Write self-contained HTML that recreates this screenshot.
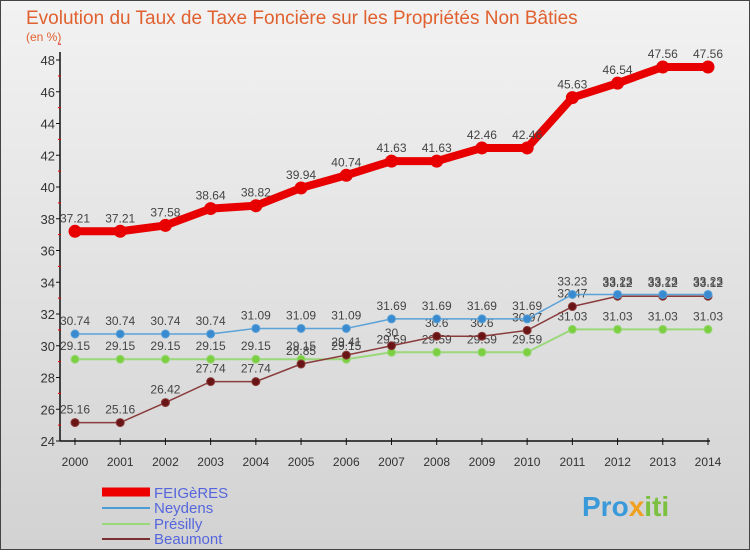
<!DOCTYPE html>
<html><head><meta charset="utf-8"><style>
body{margin:0;width:750px;height:550px;overflow:hidden;font-family:"Liberation Sans",sans-serif}
</style></head><body>
<svg width="750" height="550" xmlns="http://www.w3.org/2000/svg">
<defs><linearGradient id="bg" x1="0" y1="0" x2="0" y2="1"><stop offset="0" stop-color="#f2f2f2"/><stop offset="1" stop-color="#d2d2d2"/></linearGradient></defs>
<rect x="0.5" y="0.5" width="749" height="549" fill="url(#bg)" stroke="#444"/>
<text x="26" y="24" font-size="19" fill="#e0612f">Evolution du Taux de Taxe Foncière sur les Propriétés Non Bâties</text>
<text x="26" y="41" font-size="12" fill="#e0612f">(en %)</text>
<g id="axes"></g><g id="series"></g>
<g font-size="15" fill="#5566dd">
<line x1="102" y1="492" x2="150" y2="492" stroke="#e00" stroke-width="9"/>
<text x="154" y="498" fill="#5566dd">FEIGèRES</text>
<line x1="102" y1="508" x2="150" y2="508" stroke="#4d9bd4" stroke-width="2"/>
<text x="154" y="513" fill="#5566dd">Neydens</text>
<line x1="102" y1="524" x2="150" y2="524" stroke="#9ad87a" stroke-width="2"/>
<text x="154" y="529" fill="#5566dd">Présilly</text>
<line x1="102" y1="539" x2="150" y2="539" stroke="#7a3030" stroke-width="2"/>
<text x="154" y="544" fill="#5566dd">Beaumont</text>
</g>
<text x="582" y="516" font-size="28" font-weight="bold" fill="#3a9ad9">Pro<tspan fill="#f0a020">x</tspan><tspan fill="#7cc040">iti</tspan></text>
</svg>
<script>
const years=[2000,2001,2002,2003,2004,2005,2006,2007,2008,2009,2010,2011,2012,2013,2014];
const feigeres=[37.21,37.21,37.58,38.64,38.82,39.94,40.74,41.63,41.63,42.46,42.46,45.63,46.54,47.56,47.56];
const neydens=[30.74,30.74,30.74,30.74,31.09,31.09,31.09,31.69,31.69,31.69,31.69,33.23,33.23,33.23,33.23];
const presilly=[29.15,29.15,29.15,29.15,29.15,29.15,29.15,29.59,29.59,29.59,29.59,31.03,31.03,31.03,31.03];
const beaumont=[25.16,25.16,26.42,27.74,27.74,28.85,29.41,30,30.6,30.6,30.97,32.47,33.12,33.12,33.12];
const yTicks=[24,26,28,30,32,34,36,38,40,42,44,46,48];
const NS="http://www.w3.org/2000/svg";
const x=i=>75+i*(708-75)/(years.length-1);
const y=v=>441-(v-24)*(441-60)/24;
function el(t,a,p){const e=document.createElementNS(NS,t);for(const k in a)e.setAttribute(k,a[k]);p.appendChild(e);return e;}
const ax=document.getElementById('axes'),sg=document.getElementById('series');
let yl=el('line',{x1:60,y1:52,x2:60,y2:441,stroke:'#111','stroke-width':1.5},ax);


let xl=el('line',{x1:60,y1:441,x2:710,y2:441,stroke:'#111','stroke-width':1.5},ax);


yTicks.forEach(t=>{
 el('line',{x1:56,x2:60,y1:y(t),y2:y(t),stroke:'#111'},ax);
 el('line',{x1:58,x2:61,y1:y(t+1),y2:y(t+1),stroke:'#e00'},ax);
 const tx=el('text',{x:55,y:y(t)+5,'text-anchor':'end','font-size':13,fill:'#333'},ax);tx.textContent=t;
 
 
});
years.forEach((yr,i)=>{
 el('line',{x1:x(i),x2:x(i),y1:438,y2:445,stroke:'#111'},ax);
 const tx=el('text',{x:x(i),y:466,'text-anchor':'middle','font-size':12,fill:'#333'},ax);tx.textContent=yr;
 
 
});
function series(d,col,w,r,dot,name){
 const g=el('g',{},sg);
 
 
 el('polyline',{points:d.map((v,i)=>x(i)+','+y(v)).join(' '),fill:'none',stroke:col,'stroke-width':w,'stroke-linejoin':'round'},g);
 d.forEach((v,i)=>{
  const c=el('circle',{cx:x(i),cy:y(v),r:r,fill:dot,stroke:col,'stroke-width':1},g);
  
  
  const t=el('text',{x:x(i),y:y(v)-9,'text-anchor':'middle','font-size':12,fill:'#444'},g);t.textContent=v;
  
  
 });
}
series(presilly,'#9ad87a',2,4,'#7ccf40','presilly');
series(beaumont,'#8a3c3c',1.5,4,'#6a1515','beaumont');
series(neydens,'#5aa2d8',1.5,4,'#3a8ad0','neydens');
series(feigeres,'#e80000',8,6,'#e80000','feigeres');
</script>
</body></html>
